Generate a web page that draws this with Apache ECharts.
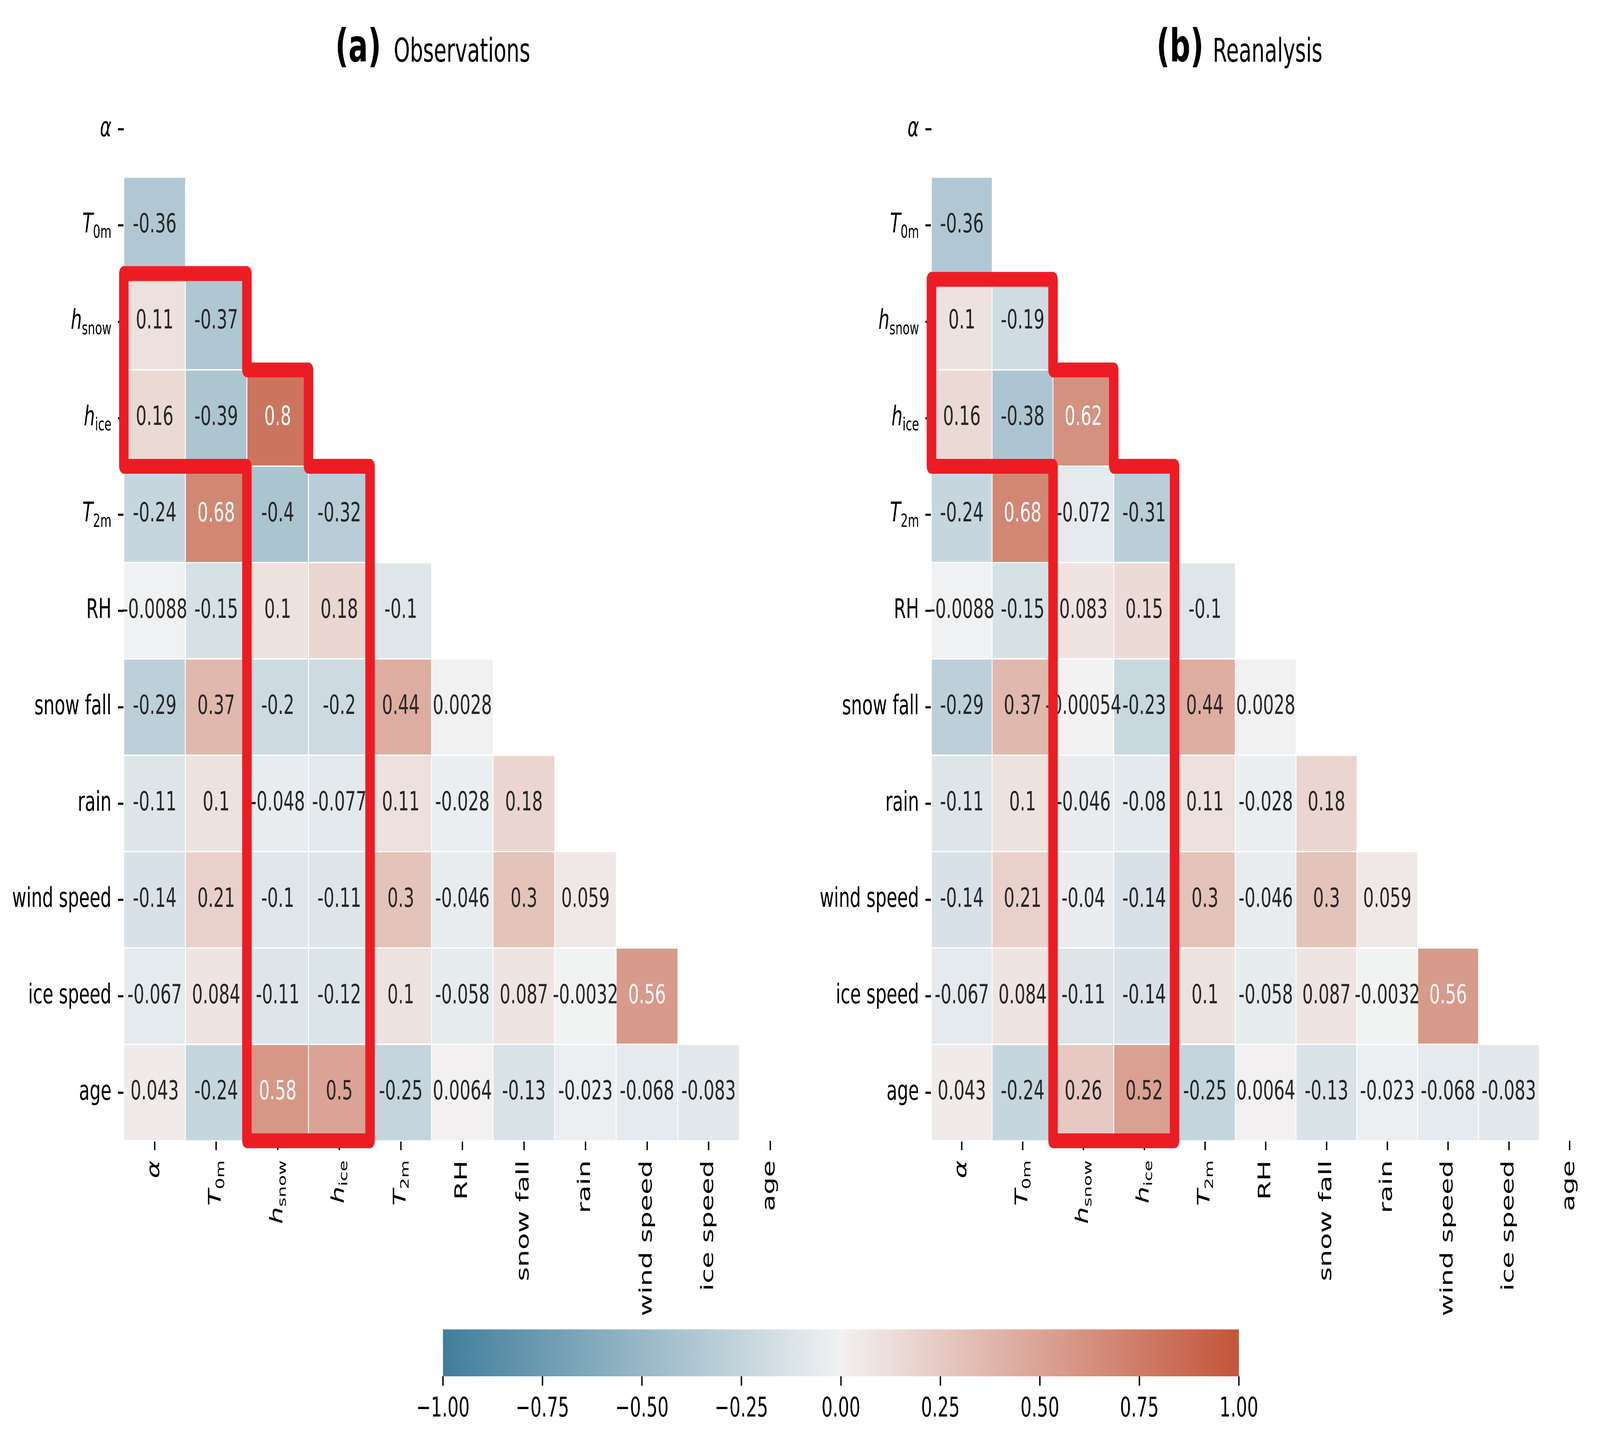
<!DOCTYPE html>
<html><head><meta charset="utf-8">
<script src="https://cdn.jsdelivr.net/npm/echarts@6/dist/echarts.min.js"></script>
<style>html,body{margin:0;padding:0;background:#fff;overflow:hidden}#c{width:6433px;height:3682px;transform-origin:0 0}</style>
</head><body><div id="c"></div><script>
// ---------------- data ----------------
const variables = ['α','T0m','hsnow','hice','T2m','RH','snow fall','rain','wind speed','ice speed','age'];
const varLabels = ['{i|α}','{i|T}{s|0m}','{i|h}{s|snow}','{i|h}{s|ice}','{i|T}{s|2m}','RH','snow fall','rain','wind speed','ice speed','age'];
// lower triangle rows (row i has i values: columns 0..i-1)
const obsRows = [
  [],
  [-0.36],
  [0.11, -0.37],
  [0.16, -0.39, 0.8],
  [-0.24, 0.68, -0.4, -0.32],
  [-0.0088, -0.15, 0.1, 0.18, -0.1],
  [-0.29, 0.37, -0.2, -0.2, 0.44, 0.0028],
  [-0.11, 0.1, -0.048, -0.077, 0.11, -0.028, 0.18],
  [-0.14, 0.21, -0.1, -0.11, 0.3, -0.046, 0.3, 0.059],
  [-0.067, 0.084, -0.11, -0.12, 0.1, -0.058, 0.087, -0.0032, 0.56],
  [0.043, -0.24, 0.58, 0.5, -0.25, 0.0064, -0.13, -0.023, -0.068, -0.083]
];
const reaRows = [
  [],
  [-0.36],
  [0.1, -0.19],
  [0.16, -0.38, 0.62],
  [-0.24, 0.68, -0.072, -0.31],
  [-0.0088, -0.15, 0.083, 0.15, -0.1],
  [-0.29, 0.37, -0.00054, -0.23, 0.44, 0.0028],
  [-0.11, 0.1, -0.046, -0.08, 0.11, -0.028, 0.18],
  [-0.14, 0.21, -0.04, -0.14, 0.3, -0.046, 0.3, 0.059],
  [-0.067, 0.084, -0.11, -0.14, 0.1, -0.058, 0.087, -0.0032, 0.56],
  [0.043, -0.24, 0.26, 0.52, -0.25, 0.0064, -0.13, -0.023, -0.068, -0.083]
];
const panelTags = ['(a)', '(b)'];
const panelNames = ['Observations', 'Reanalysis'];
const colorbarMin = -1, colorbarMax = 1, colorbarStep = 0.25;
// highlighted region outline, in cell units (column, row)
const outlineObs = [[0,2],[2,2],[2,3],[3,3],[3,4],[4,4],[4,11],[2,11],[2,4],[0,4],[0,2]];
const outlineRea = [[0,2.06],[2,2.06],[2,3],[3,3],[3,4],[4,4],[4,11],[2,11],[2,4],[0,4],[0,2.06]];

// ---------------- colormap (seaborn diverging_palette(230, 20)) ----------------
const M = [[3.240969941904521,-1.537383177570093,-0.498610760293],[-0.96924363628087,1.87596750150772,0.041555057407175],[0.055630079696993,-0.20397695888897,1.056971514242878]];
const refU=0.19783000664283, refV=0.46831999493879, kappa=903.2962962, eps=0.0088564516;
function bounds(L){const res=[];const sub1=Math.pow(L+16,3)/1560896;const sub2=sub1>eps?sub1:L/kappa;
  for(let c=0;c<3;c++){const m1=M[c][0],m2=M[c][1],m3=M[c][2];
    for(let t=0;t<2;t++){const top1=(284517*m1-94839*m3)*sub2;
      const top2=(838422*m3+769860*m2+731718*m1)*L*sub2-769860*t*L;
      const bottom=(632260*m3-126452*m2)*sub2+126452*t; res.push([top1/bottom,top2/bottom]);}}
  return res;}
function maxChroma(L,H){const hr=H/360*2*Math.PI;let mn=Infinity;
  for(const b of bounds(L)){const len=b[1]/(Math.sin(hr)-b[0]*Math.cos(hr));if(len>=0&&len<mn)mn=len;}return mn;}
function hsluv(H,S,L){let C=maxChroma(L,H)/100*S;const hr=H/360*2*Math.PI;
  const U=Math.cos(hr)*C,V=Math.sin(hr)*C;const vu=U/(13*L)+refU,vv=V/(13*L)+refV;
  const Y=L<=8?L/kappa:Math.pow((L+16)/116,3);const X=0-(9*Y*vu)/((vu-4)*vv-vu*vv);
  const Z=(9*Y-15*vv*Y-vv*X)/(3*vv);
  return M.map(r=>{const c=r[0]*X+r[1]*Y+r[2]*Z;const v=c<=0.0031308?12.92*c:1.055*Math.pow(c,1/2.4)-0.055;return Math.max(0,Math.min(1,v));});}
const knots=[[0,hsluv(230,75,50)],[127/256,hsluv(230,11.25,95)],[128/256,[0.95,0.95,0.95]],[129/256,hsluv(20,11.25,95)],[1,hsluv(20,75,50)]];
function cmap(t){t=Math.max(0,Math.min(1,t));for(let k=1;k<knots.length;k++){if(t<=knots[k][0]){const a=knots[k-1],b=knots[k];const f=(t-a[0])/(b[0]-a[0]);return a[1].map((c,i)=>c+(b[1][i]-c)*f);}}return knots[knots.length-1][1];}
function hex(rgb){return '#'+rgb.map(c=>Math.round(c*255).toString(16).padStart(2,'0')).join('');}
function lum(rgb){const f=c=>c<=0.03928?c/12.92:Math.pow((c+0.055)/1.055,2.4);return 0.2126*f(rgb[0])+0.7152*f(rgb[1])+0.0722*f(rgb[2]);}
const vmColors=[];for(let i=0;i<=256;i++)vmColors.push(hex(cmap(i/256)));
const cbStops=knots.map(k=>({offset:k[0],color:hex(k[1])}));

function cells(rows){const out=[];rows.forEach((r,i)=>r.forEach((v,j)=>{
  const rgb=cmap((v-colorbarMin)/(colorbarMax-colorbarMin));
  out.push({value:[j,i,v],label:{color:lum(rgb)>0.408?'#262626':'#ffffff'}});}));return out;}

// ---------------- layout (figure coordinates 6433 x 3682) ----------------
const el=document.getElementById('c');
// fit the 6433x3682 figure into whatever viewport the browser actually provides
const sx=(window.innerWidth||6433)/6433, sy=(window.innerHeight||3682)/3682;
el.style.transform='scale('+sx+','+sy+')';
const FONT='DejaVu Sans';
const gridRects=[{left:498,top:207,width:2722,height:2714},{left:3745,top:207,width:2719,height:2714}];
const rich={i:{fontStyle:'italic',fontSize:70,fontFamily:FONT,color:'#000'},s:{fontSize:46,fontFamily:FONT,color:'#000',padding:[40,0,0,0]}};
function catAxis(gi,isX){return {type:'category',gridIndex:gi,data:variables,inverse:!isX,
  axisLine:{show:false},axisTick:{show:true,alignWithLabel:true,length:24,lineStyle:{color:'#000',width:5.5}},
  splitLine:{show:false},
  axisLabel:{show:true,interval:0,rotate:isX?90:0,margin:50,fontSize:70,fontFamily:FONT,color:'#000',
    formatter:(v,idx)=>varLabels[idx],rich:rich}};}
function valAxis(gi,inv){return {type:'value',gridIndex:gi,min:0,max:11,inverse:inv,show:false};}
function titleItem(text,left,top,size,bold){return {text:text,left:left,top:top,padding:0,
  textStyle:{fontSize:size,fontWeight:bold?'bold':'normal',fontFamily:FONT,color:'#000'}};}

const option={
  animation:false,
  backgroundColor:'#fff',
  title:[
    titleItem(panelTags[0],1348,69,116,true),
    titleItem(panelNames[0],1583,95,83,false),
    titleItem(panelTags[1],4650,69,116,true),
    titleItem(panelNames[1],4876,95,83,false)
  ],
  grid:[
    Object.assign({},gridRects[0]),Object.assign({},gridRects[1]),
    Object.assign({},gridRects[0]),Object.assign({},gridRects[1]),
    {left:1781,top:3404,width:3200,height:120,show:true,borderWidth:0,
     backgroundColor:{type:'linear',x:0,y:0,x2:1,y2:0,colorStops:cbStops}}
  ],
  xAxis:[catAxis(0,true),catAxis(1,true),valAxis(2,false),valAxis(3,false),
    {type:'value',gridIndex:4,min:colorbarMin,max:colorbarMax,interval:colorbarStep,
     axisLine:{show:false},splitLine:{show:false},
     axisTick:{show:true,length:24,lineStyle:{color:'#000',width:5.5}},
     axisLabel:{margin:50,fontSize:70,fontFamily:FONT,color:'#000',
       formatter:v=>(v<0?'\u2212':'')+Math.abs(v).toFixed(2)}}],
  yAxis:[catAxis(0,false),catAxis(1,false),valAxis(2,true),valAxis(3,true),
    {type:'value',gridIndex:4,min:0,max:1,show:false}],
  visualMap:{type:'continuous',show:false,min:colorbarMin,max:colorbarMax,dimension:2,seriesIndex:[0,1],inRange:{color:vmColors}},
  series:[
    {type:'heatmap',xAxisIndex:0,yAxisIndex:0,data:cells(obsRows),
     itemStyle:{borderColor:'#fff',borderWidth:3.5},
     label:{show:true,fontSize:68,fontFamily:FONT,formatter:p=>String(p.value[2])},emphasis:{disabled:true}},
    {type:'heatmap',xAxisIndex:1,yAxisIndex:1,data:cells(reaRows),
     itemStyle:{borderColor:'#fff',borderWidth:3.5},
     label:{show:true,fontSize:68,fontFamily:FONT,formatter:p=>String(p.value[2])},emphasis:{disabled:true}},
    {type:'line',xAxisIndex:2,yAxisIndex:2,data:outlineObs,symbol:'none',clip:false,silent:true,z:10,
     lineStyle:{color:'#ED1C24',width:38,join:'round',cap:'round'}},
    {type:'line',xAxisIndex:3,yAxisIndex:3,data:outlineRea,symbol:'none',clip:false,silent:true,z:10,
     lineStyle:{color:'#ED1C24',width:38,join:'round',cap:'round'}}
  ]
};
const chart=echarts.init(el,null,{renderer:'canvas'});
chart.setOption(option);
</script></body></html>
